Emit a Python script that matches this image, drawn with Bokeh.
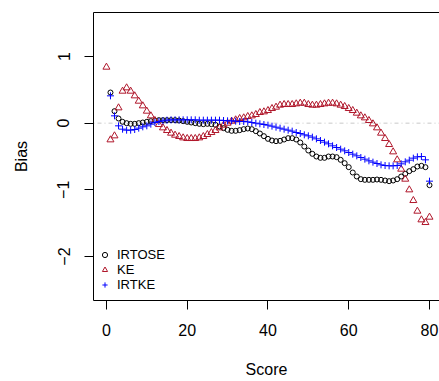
from bokeh.plotting import figure
from bokeh.models import Range1d, FixedTicker, LinearAxis, Span
from bokeh.embed import file_html
from bokeh.resources import INLINE

# ---- data ----
score_ke = list(range(0, 81))
ke = [0.84, -0.25, -0.19, 0.23, 0.48, 0.53, 0.48, 0.41, 0.33, 0.26,
      0.18, 0.11, 0.04, -0.02, -0.07, -0.11, -0.15, -0.18, -0.20, -0.22,
      -0.23, -0.23, -0.23, -0.22, -0.20, -0.17, -0.14, -0.11, -0.07, -0.03,
      0.00, 0.03, 0.05, 0.07, 0.08, 0.10, 0.11, 0.13, 0.16, 0.17,
      0.19, 0.22, 0.24, 0.27, 0.28, 0.28, 0.28, 0.29, 0.30, 0.30,
      0.28, 0.27, 0.27, 0.28, 0.29, 0.30, 0.30, 0.29, 0.27, 0.25,
      0.22, 0.19, 0.15, 0.11, 0.08, 0.04, -0.01, -0.07, -0.15, -0.23,
      -0.32, -0.43, -0.55, -0.69, -0.84, -1.00, -1.16, -1.32, -1.45, -1.49,
      -1.41]

score = list(range(1, 81))
irtose = [0.46, 0.18, 0.07, 0.02, 0.00, -0.01, -0.01, 0.00, 0.01, 0.02,
          0.03, 0.04, 0.045, 0.045, 0.045, 0.045, 0.045, 0.04, 0.03, 0.02,
          0.01, 0.00, -0.01, -0.015, -0.01, -0.015, -0.025, -0.05, -0.075, -0.10,
          -0.115, -0.115, -0.105, -0.09, -0.08, -0.09, -0.12, -0.155, -0.195, -0.235,
          -0.26, -0.27, -0.265, -0.245, -0.225, -0.225, -0.245, -0.29, -0.35, -0.41,
          -0.46, -0.50, -0.52, -0.52, -0.50, -0.50, -0.51, -0.55, -0.60, -0.66,
          -0.74, -0.80, -0.84, -0.85, -0.85, -0.85, -0.845, -0.85, -0.86, -0.87,
          -0.86, -0.84, -0.80, -0.76, -0.72, -0.69, -0.65, -0.64, -0.66, -0.93]
irtke = [0.41, 0.11, -0.04, -0.09, -0.105, -0.105, -0.095, -0.075, -0.055, -0.04,
         -0.015, 0.01, 0.025, 0.035, 0.045, 0.05, 0.05, 0.05, 0.05, 0.05,
         0.05, 0.05, 0.045, 0.045, 0.045, 0.045, 0.045, 0.045, 0.04, 0.035,
         0.035, 0.03, 0.025, 0.025, 0.02, 0.01, 0.00, -0.01, -0.02, -0.03,
         -0.045, -0.06, -0.075, -0.09, -0.105, -0.12, -0.14, -0.155, -0.175, -0.19,
         -0.21, -0.235, -0.26, -0.285, -0.31, -0.34, -0.365, -0.39, -0.415, -0.44,
         -0.465, -0.49, -0.515, -0.54, -0.565, -0.585, -0.605, -0.625, -0.635, -0.64,
         -0.64, -0.635, -0.61, -0.58, -0.555, -0.525, -0.505, -0.50, -0.55, -0.87]

x_ticks = [0, 20, 40, 60, 80]
y_ticks = [-2, -1, 0, 1]

FONT = "Liberation Sans"

p = figure(width=439, height=381, output_backend="svg", toolbar_location=None,
           x_range=Range1d(-3.2, 82.48), y_range=Range1d(-2.66, 1.66),
           min_border_left=93, min_border_right=0, min_border_top=12,
           min_border_bottom=81)
p.background_fill_color = "white"
p.border_fill_color = "white"
p.grid.visible = False
p.outline_line_color = None

for ax in (p.xaxis[0], p.yaxis[0]):
    ax.axis_line_color = "black"
    ax.axis_line_width = 1
    ax.major_tick_line_color = "black"
    ax.major_tick_out = 9
    ax.major_tick_in = 0
    ax.minor_tick_line_color = None
    ax.major_label_text_font = FONT
    ax.major_label_text_font_size = "16px"
    ax.major_label_text_color = "black"
    ax.axis_label_text_font = FONT
    ax.axis_label_text_font_size = "16px"
    ax.axis_label_text_font_style = "normal"
    ax.axis_label_text_color = "black"

p.xaxis[0].ticker = FixedTicker(ticks=x_ticks)
p.yaxis[0].ticker = FixedTicker(ticks=y_ticks)
p.xaxis[0].axis_label = "Score"
p.yaxis[0].axis_label = "Bias"
p.xaxis[0].major_label_standoff = 14
p.xaxis[0].axis_label_standoff = 22
p.yaxis[0].major_label_standoff = 15
p.yaxis[0].axis_label_standoff = 25
p.yaxis[0].major_label_orientation = "vertical"

top = LinearAxis(ticker=FixedTicker(ticks=[]), major_tick_out=0, major_tick_in=0,
                 minor_tick_line_color=None, axis_line_color="black")
p.add_layout(top, "above")

zero = Span(location=0, dimension="width", line_color="#c8c8c8", line_width=1,
            line_dash="1 3 4 3", level="underlay")
p.add_layout(zero)

p.scatter(score, irtose, marker="circle", size=5, fill_color=None,
          line_color="black", line_width=1, legend_label="IRTOSE")
p.scatter(score_ke, ke, marker="triangle", size=7, fill_color=None,
          line_color="#B0172B", line_width=1, legend_label="KE")
p.scatter(score, irtke, marker="cross", size=7, line_color="#0000FF",
          line_width=1, legend_label="IRTKE")

lg = p.legend[0]
lg.location = (5, 8)
lg.glyph_width = 13
lg.glyph_height = 15
lg.label_height = 15
lg.label_standoff = 6
lg.spacing = 0
lg.padding = 0
lg.margin = 0
lg.border_line_color = None
lg.background_fill_alpha = 0
lg.label_text_font = FONT
lg.label_text_font_size = "13px"
lg.label_text_color = "black"

open("out.html", "w").write(file_html(p, INLINE))
